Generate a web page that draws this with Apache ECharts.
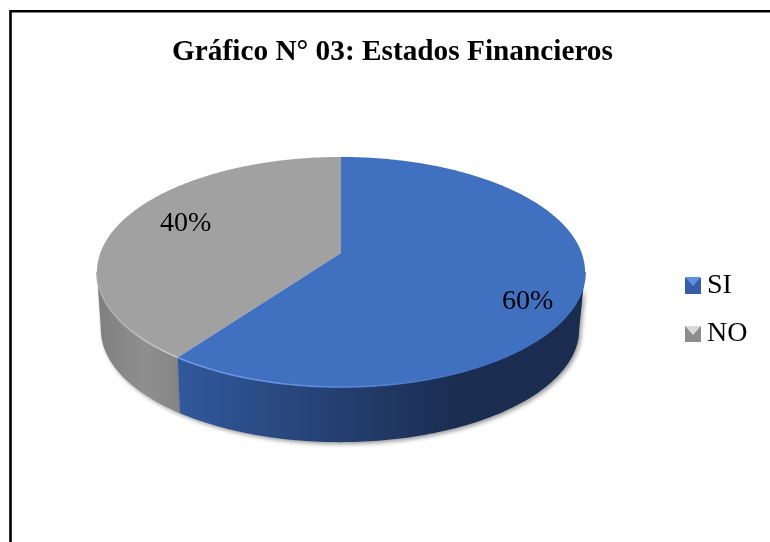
<!DOCTYPE html>
<html>
<head>
<meta charset="utf-8">
<style>html,body{margin:0;padding:0;background:#fff}#c{width:770px;height:542px}</style>
<script src="https://cdn.jsdelivr.net/npm/echarts@6/dist/echarts.min.js"></script>
</head>
<body>
<div id="c"></div>
<script>
const chartTitle = 'Gráfico N° 03: Estados Financieros';
const categories = ['SI', 'NO'];
const values = [60, 40];
const total = values.reduce((a, b) => a + b, 0);

// Perspective disc layout (projective map of a unit circle, apex of the wedges at cx,cy)
const cx = 341, cy = 253, cX = 240.7, aY = 111.9, persp = -0.165;
const baseScale = 0.98, baseShift = -1, baseDrop = 57.8;
const serif = '"Liberation Serif","Times New Roman",serif';

function project(deg, r) {
  const t = deg * Math.PI / 180, u = Math.sin(t) * r, v = -Math.cos(t) * r, w = 1 + persp * v;
  return [cX * u / w, aY * v / w];
}
const topPt = (deg, r = 1) => { const p = project(deg, r); return [cx + p[0], cy + p[1]]; };
const basePt = deg => { const p = project(deg, 1); return [cx + baseShift + p[0] * baseScale, cy + p[1] * baseScale + baseDrop]; };
function arc(fn, a, b) {
  const pts = [], n = Math.max(2, Math.ceil(Math.abs(b - a)));
  for (let i = 0; i <= n; i++) pts.push(fn(a + (b - a) * i / n));
  return pts;
}
const grad = (x0, x1, stops) => new echarts.graphic.LinearGradient(x0, 0, x1, 0,
  stops.map(s => ({ offset: s[0], color: s[1] })), true);

const looks = [
  { top: '#4070c0', wall: grad(180, 580, [[0, '#31589c'], [0.4, '#243f70'], [0.68, '#1b2e52'], [1, '#1a2c4f']]),
    bevel: grad(180, 480, [[0, '#6f9bea'], [0.5, '#5f8bdc'], [1, '#4070c0']]),
    labelDx: 2, labelDy: 21, r: 0.775 },
  { top: '#a1a1a1', wall: grad(97, 183, [[0, '#7f7f7f'], [0.55, '#8f8f8f'], [1, '#848484']]),
    bevel: grad(97, 183, [[0, '#aaaaaa'], [1, '#cbcbcb']]),
    labelDx: 10, labelDy: -4, r: 0.75 }
];
const visibleFrom = 99.5, visibleTo = 260.5;

function sliceRenderer(index) {
  return function (params, api) {
    const value = api.value(0);
    const start = values.slice(0, index).reduce((a, b) => a + b, 0) / total * 360;
    const end = start + value / total * 360;
    const look = looks[index];
    const children = [];
    const wa = Math.max(start, visibleFrom), wb = Math.min(end, visibleTo);
    if (wb > wa) {
      children.push({
        type: 'polygon', z2: 1,
        shape: { points: arc(topPt, wa, wb).concat(arc(basePt, wb, wa)) },
        style: { fill: look.wall, shadowBlur: 4, shadowColor: 'rgba(0,0,0,0.4)', shadowOffsetX: 2, shadowOffsetY: 2 }
      });
    }
    return { type: 'group', children: children.concat([
      {
        type: 'polygon', z2: 3,
        shape: { points: [[cx, cy]].concat(arc(topPt, start, end)) },
        style: { fill: look.top }
      },
      {
        type: 'polyline', z2: 4,
        shape: { points: arc(topPt, wa, wb) },
        style: { stroke: look.bevel, lineWidth: 1.6, fill: null }
      },
      (function () {
        const m = topPt((start + end) / 2, look.r);
        return {
          type: 'text', z2: 6,
          style: {
            x: m[0] + look.labelDx, y: m[1] + look.labelDy,
            text: Math.round(value / total * 100) + '%',
            font: '28px ' + serif, fill: '#000', align: 'center', verticalAlign: 'middle'
          }
        };
      })()
    ]) };
  };
}

const chart = echarts.init(document.getElementById('c'), null, { renderer: 'canvas' });
chart.setOption({
  animation: false,
  backgroundColor: '#fff',
  title: {
    text: chartTitle, left: 387.5, top: 33, textAlign: 'center',
    textStyle: { fontFamily: serif, fontSize: 29.3, fontWeight: 'bold', color: '#000' }
  },
  legend: {
    orient: 'vertical', left: 680, top: 267, itemWidth: 16, itemHeight: 16, itemGap: 20,
    icon: 'rect', selectedMode: false,
    textStyle: { fontFamily: serif, fontSize: 28, color: '#000', padding: [2, 0, 0, 1] },
    data: [
      { name: categories[0], itemStyle: { color: '#355ea6' } },
      { name: categories[1], itemStyle: { color: '#8c8c8c' } }
    ]
  },
  graphic: [
    { type: 'rect', silent: true, z: 20, shape: { x: 10.5, y: 11.2, width: 900, height: 700 },
      style: { fill: null, stroke: '#000', lineWidth: 2.6 } },
    { type: 'polygon', silent: true, z: 20, shape: { points: [[685, 277], [701, 277], [693, 286]] },
      style: { fill: '#5b8fe6' } },
    { type: 'polygon', silent: true, z: 20, shape: { points: [[685, 326], [701, 326], [693, 335]] },
      style: { fill: '#d8d8d8' } }
  ],
  series: categories.map((name, i) => ({
    type: 'custom', name, coordinateSystem: 'none', silent: true, z: 2 + (i === 0 ? 1 : 0),
    itemStyle: { color: i === 0 ? '#355ea6' : '#8c8c8c' },
    renderItem: sliceRenderer(i),
    data: [[values[i]]]
  }))
});
</script>
</body>
</html>
